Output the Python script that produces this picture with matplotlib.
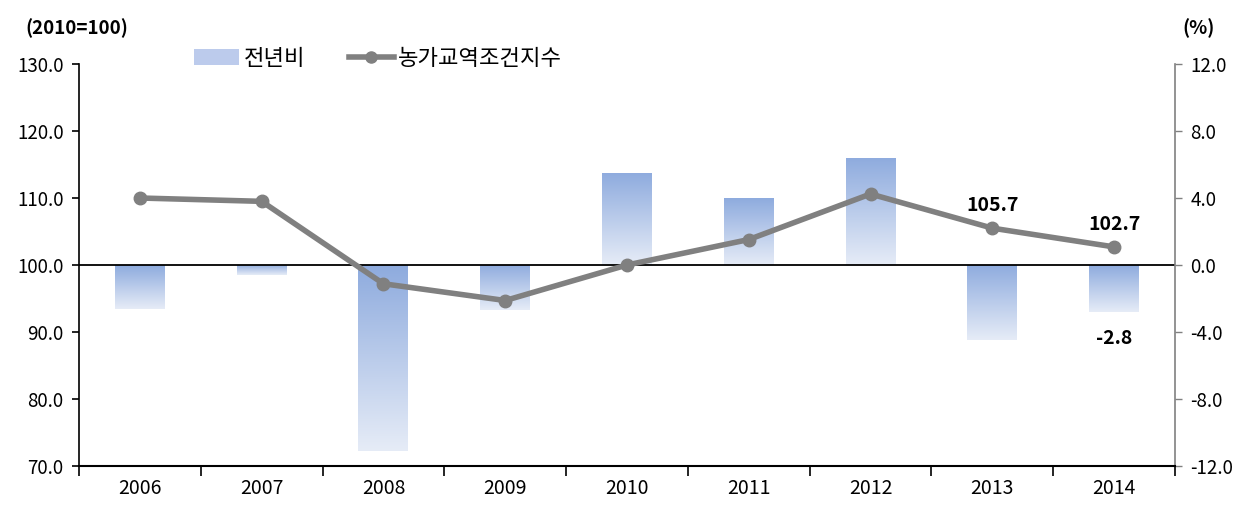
import matplotlib
matplotlib.use("Agg")
import matplotlib.pyplot as plt
import numpy as np
from matplotlib.colors import LinearSegmentedColormap
from matplotlib.patches import Patch
from matplotlib.lines import Line2D

plt.rcParams['font.family'] = ['Noto Sans CJK KR', 'DejaVu Sans']

years = ["2006", "2007", "2008", "2009", "2010", "2011", "2012", "2013", "2014"]
index_values = [110.0, 109.5, 97.2, 94.7, 100.0, 103.8, 110.6, 105.5, 102.7]
yoy_change = [-2.6, -0.6, -11.1, -2.7, 5.5, 4.0, 6.4, -4.5, -2.8]

x = np.arange(len(years))

fig = plt.figure(figsize=(12.46, 5.08), dpi=100)
ax = fig.add_axes([0.0634, 0.0827, 0.8796, 0.7913])
ax2 = ax.twinx()

# bars on the right (%) axis with vertical gradient
grad_cmap = LinearSegmentedColormap.from_list("g", ["#8eabde", "#e6ecf7"])
bars = ax2.bar(x, yoy_change, width=0.41, color="none", edgecolor="none", zorder=1)
grad = np.linspace(0, 1, 256).reshape(-1, 1)
for b in bars:
    x0, y0 = b.get_x(), b.get_y()
    w, h = b.get_width(), b.get_height()
    ylo, yhi = min(y0, y0 + h), max(y0, y0 + h)
    im = ax2.imshow(grad, cmap=grad_cmap, aspect="auto",
                    extent=(x0, x0 + w, ylo, yhi), origin="upper", zorder=1)
    im.set_clip_path(b)
ax2.set_ylim(-12, 12)
ax2.set_xlim(-0.5, 8.5)

# zero line
ax2.axhline(0, color="black", linewidth=1.3, zorder=2)

# line on left axis
ax.set_zorder(ax2.get_zorder() + 1)
ax.patch.set_visible(False)
ax.plot(x, index_values, color="#808080", linewidth=4, marker="o",
        markersize=9, zorder=3)
ax.set_ylim(70, 130)
ax.set_xlim(-0.5, 8.5)

# labels
ax.text(x[7], index_values[7] + 1.9, "105.7", ha="center", va="bottom",
        fontsize=14, fontweight="bold")
ax.text(x[8], index_values[8] + 1.9, "102.7", ha="center", va="bottom",
        fontsize=14, fontweight="bold")
ax2.text(x[8], yoy_change[8] - 1.0, "-2.8", ha="center", va="top",
         fontsize=14, fontweight="bold")

# axes styling
ax.set_yticks(np.arange(70, 131, 10))
ax.set_yticklabels([f"{v:.1f}" for v in np.arange(70, 131, 10)], fontsize=13.5)
ax2.set_yticks(np.arange(-12, 13, 4))
ax2.set_yticklabels([f"{v:.1f}" for v in np.arange(-12, 13, 4)], fontsize=13.5)
ax.set_xticks(np.arange(-0.5, 9, 1))
ax.set_xticklabels([])
ax.set_xticks(x, minor=True)
ax.set_xticklabels(years, minor=True, fontsize=14)
ax.tick_params(axis="x", which="minor", length=0, pad=9)
ax.tick_params(axis="x", which="major", length=7, direction="out", width=1.2)
ax.tick_params(axis="y", length=5, width=1.2, direction="out", pad=6)
ax2.tick_params(axis="y", length=5, width=1, color="#808080", direction="out", pad=6)

ax.spines["top"].set_visible(False)
ax2.spines["top"].set_visible(False)
ax.spines["right"].set_visible(False)
ax2.spines["left"].set_visible(False)
ax2.spines["bottom"].set_visible(False)
ax.spines["left"].set_linewidth(1.2)
ax.spines["bottom"].set_linewidth(1.5)
ax2.spines["right"].set_color("#808080")
ax2.spines["right"].set_linewidth(1.2)

fig.text(0.062, 0.945, "(2010=100)", ha="center", va="center", fontsize=13.5, fontweight="bold")
fig.text(0.962, 0.945, "(%)", ha="center", va="center", fontsize=13.5, fontweight="bold")

handles = [Patch(facecolor="#bccbec", edgecolor="none"),
           Line2D([0], [0], color="#808080", linewidth=4, marker="o", markersize=8)]
fig.legend(handles, ["전년비", "농가교역조건지수"], loc="center left",
           bbox_to_anchor=(0.14, 0.885), ncol=2, frameon=False, fontsize=16,
           handlelength=2.0, handletextpad=0.2, columnspacing=2.0)

fig.savefig("out.png", dpi=100)
